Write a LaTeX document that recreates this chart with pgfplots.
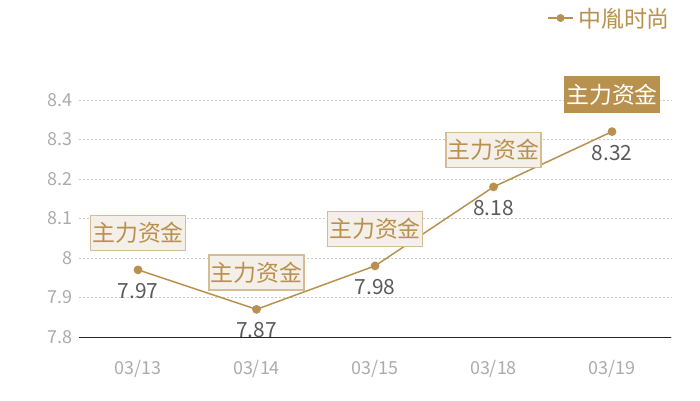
\documentclass[border=0pt]{standalone}
\usepackage{pgfplots}
\pgfplotsset{compat=1.18}
\usepackage{fontspec}
\setmainfont{Noto Sans CJK SC}
\definecolor{tan}{HTML}{B8914F}
\definecolor{boxfill}{HTML}{F4EFE9}
\definecolor{boxdraw}{HTML}{D4BC93}
\definecolor{ticklab}{HTML}{ABABAB}
\definecolor{vallab}{HTML}{5A5A5A}
\definecolor{gridc}{HTML}{C8C8C8}
\begin{document}
\begin{tikzpicture}[x=1bp,y=1bp]
\path[use as bounding box] (0,0) rectangle (700,400);
\begin{axis}[
  at={(78.75bp,63bp)}, anchor=south west,
  scale only axis, width=592.5bp, height=237bp,
  xmin=-0.5, xmax=4.5, ymin=7.8, ymax=8.4,
  /pgf/number format/assume math mode=true,
  xtick={0,1,2,3,4},
  xticklabels={03/13,03/14,03/15,03/18,03/19},
  ytick={7.8,7.9,8,8.1,8.2,8.3,8.4},
  yticklabels={7.8,7.9,8,8.1,8.2,8.3,8.4},
  axis x line*=bottom, axis y line*=left,
  y axis line style={draw=none},
  x axis line style={draw=black!85, line width=0.8bp, -},
  major tick length=0pt,
  ymajorgrids, grid style={gridc, dash pattern=on 2bp off 2bp, line width=0.7bp},
  xticklabel style={font=\fontsize{18}{18}\selectfont, text=ticklab, yshift=-20bp},
  yticklabel style={font=\fontsize{18}{18}\selectfont, text=ticklab, xshift=-3bp},
  clip=false,
]
\addplot[tan, line width=1.5bp, mark=*, mark size=3.6bp, mark options={fill=tan, draw=tan},
  nodes near coords, point meta=explicit symbolic,
  every node near coord/.style={anchor=center, yshift=-21bp, font=\fontsize{21}{21}\selectfont, text=vallab}]
  table[meta=label] {
  x y label
  0 7.97 7.97
  1 7.87 7.87
  2 7.98 7.98
  3 8.18 8.18
  4 8.32 8.32
  };
\tikzset{lbl/.style={draw=boxdraw, fill=boxfill, line width=1.5bp, text=tan, inner sep=1.5bp, minimum height=35bp, font=\fontsize{23}{23}\selectfont, yshift=37bp}}
\node[lbl] at (axis cs:0,7.97) {主力资金};
\node[lbl] at (axis cs:1,7.87) {主力资金};
\node[lbl] at (axis cs:2,7.98) {主力资金};
\node[lbl] at (axis cs:3,8.18) {主力资金};
\node[lbl, fill=tan, draw=tan, text=white] at (axis cs:4,8.32) {主力资金};
\end{axis}
\draw[tan, line width=1.5bp] (548,382) -- (573,382);
\fill[tan] (560.5,382) circle (4bp);
\node[anchor=west, text=tan, font=\fontsize{23}{23}\selectfont, inner sep=0pt] at (578,381) {中胤时尚};
\end{tikzpicture}
\end{document}
